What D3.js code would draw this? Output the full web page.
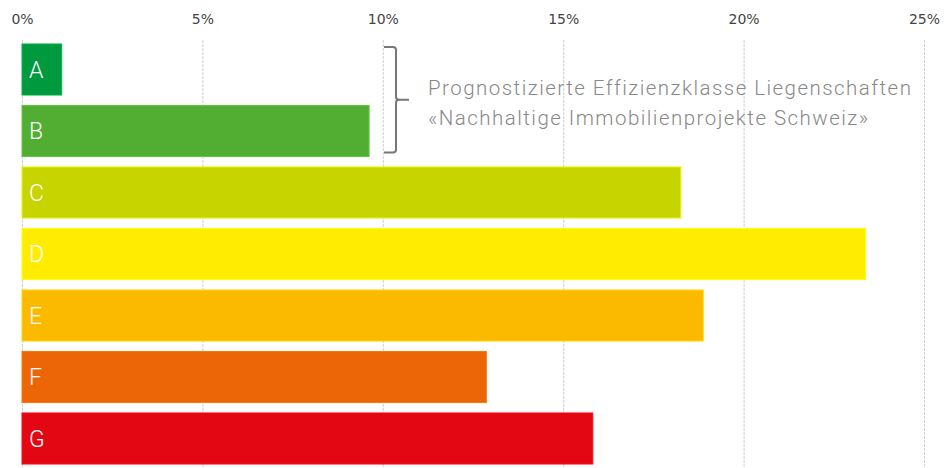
<!DOCTYPE html>
<html><head><meta charset="utf-8">
<script src="https://cdn.jsdelivr.net/npm/d3@7"></script>
<style>html,body{margin:0;padding:0;background:#fff;}svg{display:block;}</style>
</head><body>
<svg id="chart" width="944" height="468"></svg>
<script>
const categories = ["A","B","C","D","E","F","G"];
const values = [1.1, 9.62, 18.26, 23.38, 18.88, 12.87, 15.82];
const colors = ["#009a3e","#52ae32","#c8d400","#ffec00","#fbba00","#ec6608","#e30613"];
const tickValues = [0,5,10,15,20,25];
const annotationLines = ["Prognostizierte Effizienzklasse Liegenschaften","«Nachhaltige Immobilienprojekte Schweiz»"];

const svg = d3.select("#chart");
const x = d3.scaleLinear().domain([0,25]).range([22,924]);
const y = d3.scaleBand().domain(categories).range([38.75,469.25]).paddingInner(0.17).paddingOuter(0.085);

// gridlines
svg.append("g").selectAll("line").data(tickValues).join("line")
  .attr("x1",d=>x(d)+0.5).attr("x2",d=>x(d)+0.5)
  .attr("y1",40).attr("y2",468)
  .attr("stroke","#cfcfcf").attr("stroke-width",1).attr("stroke-dasharray","3,1");

// axis
const axis = d3.axisTop(x).tickValues(tickValues).tickFormat(d=>d+"%").tickSize(0).tickPadding(0);
const ag = svg.append("g").attr("transform","translate(0,24)").call(axis);
ag.select(".domain").remove();
ag.selectAll("text").attr("font-family","DejaVu Sans, sans-serif").attr("font-size",14)
  .attr("fill","#444").attr("dy",0);

// bars
const data = categories.map((c,i)=>({c, v:values[i], col:colors[i]}));
svg.append("g").selectAll("rect").data(data).join("rect")
  .attr("x",x(0)).attr("y",d=>y(d.c))
  .attr("width",d=>x(d.v)-x(0)).attr("height",y.bandwidth())
  .attr("fill",d=>d.col)
  .attr("stroke",d=>d3.color(d.col).brighter(0.4)).attr("stroke-width",1);

svg.append("g").selectAll("text").data(data).join("text")
  .attr("x",x(0)+7).attr("y",d=>y(d.c)+y.bandwidth()/2)
  .attr("dy","0.36em")
  .attr("font-family","Roboto, 'Liberation Sans', sans-serif").attr("font-weight",300)
  .attr("font-size",23).attr("fill","#fff").text(d=>d.c);

// bracket
const bTop = y("A")+3, bBot = y("B")+y.bandwidth()-4, bx = 396;
const bMid = (bTop+bBot)/2;
svg.append("path")
  .attr("d",`M${bx-12},${bTop} L${bx-3},${bTop} Q${bx},${bTop} ${bx},${bTop+3} L${bx},${bMid-3} Q${bx},${bMid} ${bx+3},${bMid} L${bx+13},${bMid} M${bx+3},${bMid} Q${bx},${bMid} ${bx},${bMid+3} L${bx},${bBot-3} Q${bx},${bBot} ${bx-3},${bBot} L${bx-12},${bBot}`)
  .attr("fill","none").attr("stroke","#777").attr("stroke-width",2);

const ann = svg.append("g").selectAll("text").data(annotationLines).join("text")
  .attr("x",428).attr("y",(d,i)=>95+i*30)
  .attr("font-family","Roboto, 'Liberation Sans', sans-serif").attr("font-weight",300)
  .attr("font-size",20.5).attr("fill","#888").text(d=>d);
const first = ann.node();
const w = first.getComputedTextLength();
const ls = (482 - w) / (annotationLines[0].length - 1);
ann.attr("letter-spacing", ls.toFixed(2));
</script>
</body></html>
